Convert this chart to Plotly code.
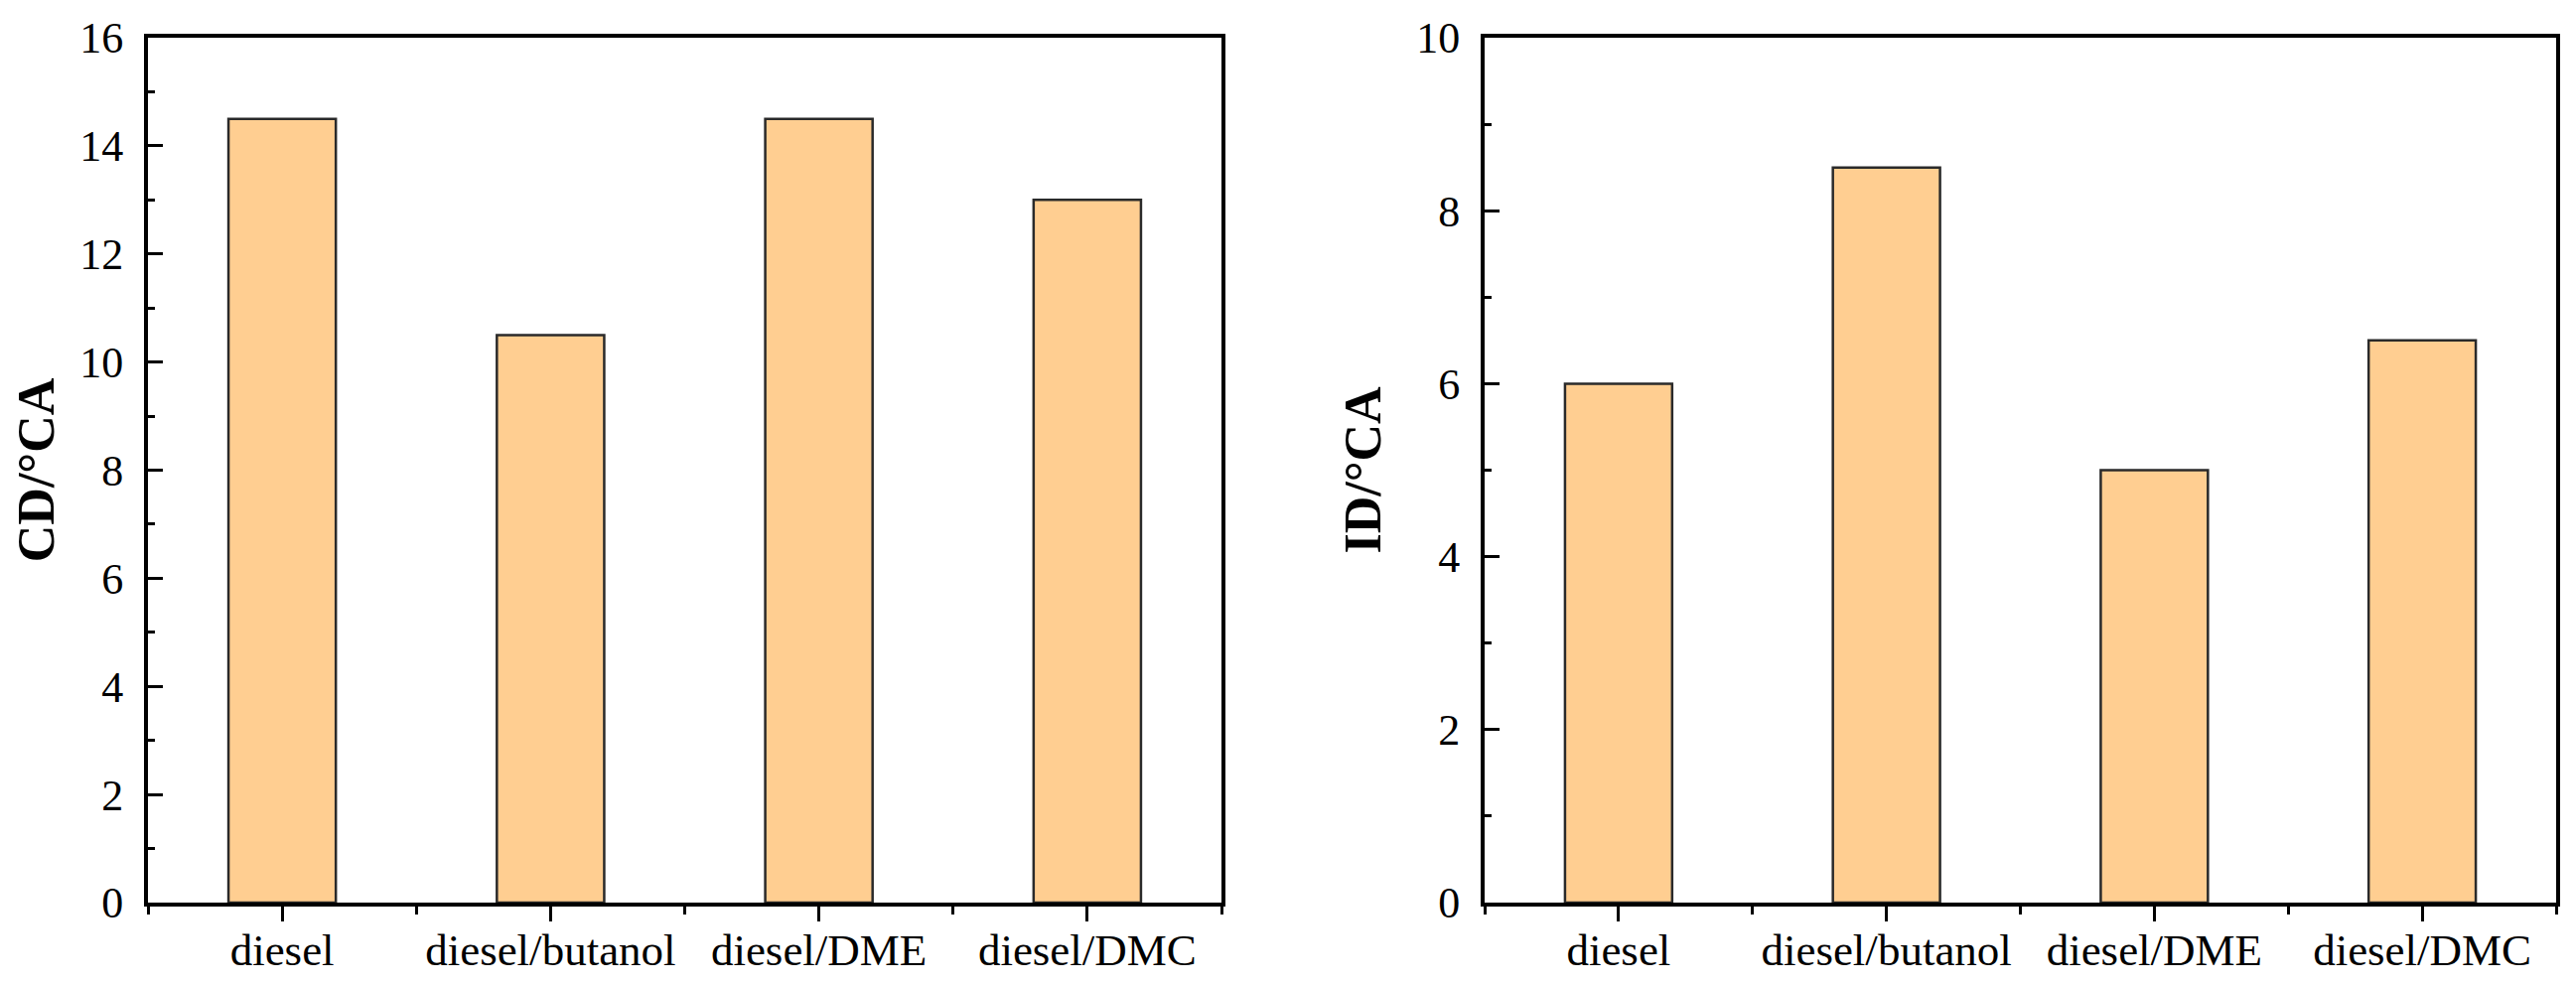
import plotly.graph_objects as go

categories = ["diesel", "diesel/butanol", "diesel/DME", "diesel/DMC"]
cd_values = [14.5, 10.5, 14.5, 13.0]
id_values = [6.0, 8.5, 5.0, 6.5]
cd_ticks = [0, 2, 4, 6, 8, 10, 12, 14, 16]
id_ticks = [0, 2, 4, 6, 8, 10]

W, H = 2594, 993
FONT = "Liberation Serif"
BAR = "#FFCE91"

xpos = list(range(len(categories)))

fig = go.Figure()
fig.add_trace(go.Bar(x=xpos, y=cd_values, width=0.4, marker=dict(color=BAR, line=dict(color="#2a2a2a", width=2.5)),
                     xaxis="x", yaxis="y", showlegend=False))
fig.add_trace(go.Bar(x=xpos, y=id_values, width=0.4, marker=dict(color=BAR, line=dict(color="#2a2a2a", width=2.5)),
                     xaxis="x2", yaxis="y2", showlegend=False))

def xaxis_cfg(domain, anchor):
    return dict(domain=domain, anchor=anchor, range=[-0.5, 3.5], tickmode="array", tickvals=xpos,
                ticktext=categories, ticks="outside", ticklen=15, tickwidth=3, tickcolor="black",
                showline=True, linewidth=4, linecolor="black", mirror=True, showgrid=False, zeroline=False,
                tickfont=dict(family=FONT, size=45, color="black"), ticklabelstandoff=-10,
                minor=dict(tick0=-0.5, dtick=1, ticks="outside", ticklen=8, tickwidth=3, tickcolor="black", showgrid=False),
                automargin=False, fixedrange=True)

def yaxis_cfg(domain, anchor, rng, tickvals, title):
    return dict(domain=domain, anchor=anchor, range=rng, tickmode="array", tickvals=tickvals,
                ticks="inside", ticklen=15, tickwidth=3, tickcolor="black",
                showline=True, linewidth=4, linecolor="black", mirror=True, showgrid=False, zeroline=False,
                tickfont=dict(family=FONT, size=44, color="black"), ticklabelstandoff=12,
                minor=dict(dtick=1, tick0=0, ticks="inside", ticklen=7, tickwidth=3, tickcolor="black", showgrid=False),
                title=dict(text=title, font=dict(family=FONT, size=52, color="black"), standoff=20),
                automargin=False, fixedrange=True)

ydom = [1 - 901 / H, 1 - 30 / H]
fig.update_layout(
    width=W, height=H,
    margin=dict(l=0, r=0, t=0, b=0),
    paper_bgcolor="white", plot_bgcolor="white",
    xaxis=xaxis_cfg([141 / W, 1222 / W], "y"),
    yaxis=yaxis_cfg(ydom, "x", [0, 16], cd_ticks, "<b>CD/°CA</b>"),
    xaxis2=xaxis_cfg([1487 / W, 2566 / W], "y2"),
    yaxis2=yaxis_cfg(ydom, "x2", [0, 10], id_ticks, "<b>ID/°CA</b>"),
    bargap=0.6,
)

fig.write_html("out.html")
